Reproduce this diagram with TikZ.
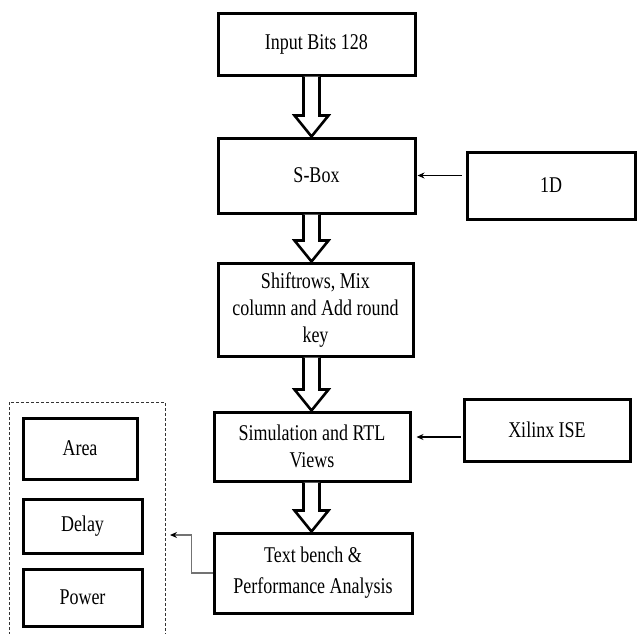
\documentclass[tikz,border=0pt]{standalone}
\usepackage{fontspec}
\setmainfont[FakeStretch=0.8]{Liberation Serif}
\usetikzlibrary{arrows.meta,calc}
\begin{document}
\begin{tikzpicture}[x=1pt,y=-1pt,
  box/.style={draw=black,line width=3pt,fill=white,inner sep=0pt,align=center,
    font=\fontsize{22.5}{27}\selectfont},
  harrow/.style={draw=black,line width=2.6pt,fill=white,line join=miter},
  thinarrow/.style={draw=black,line width=1.4pt,-{Stealth[length=7pt,width=6pt]}},
  fbarrow/.style={draw=black!55,line width=1.6pt,-{Stealth[length=7pt,width=6pt,color=black]}},
  dashbox/.style={draw=black!80,line width=1pt,dash pattern=on 3pt off 2pt}]
\useasboundingbox (0,0) rectangle (638,633);
\path[fill=white] (0,0) rectangle (638,633);

\node[box,minimum width=197pt,minimum height=62pt] (in) at (316.5,44) {Input Bits 128};
\node[box,minimum width=197pt,minimum height=75pt] (sbox) at (316.5,175.5) {S-Box};
\node[box,minimum width=168pt,minimum height=67pt] (d1) at (551,185.5) {1D};
\node[box,minimum width=195pt,minimum height=93pt] (shift) at (315.5,309.5) {Shiftrows, Mix\\column and Add round\\key};
\node[box,minimum width=196pt,minimum height=69pt] (sim) at (312,446.5) {Simulation and RTL\\Views};
\node[box,minimum width=166pt,minimum height=62pt] (xil) at (547,430) {Xilinx ISE};
\node[box,minimum width=198pt,minimum height=80pt] (tb) at (313,573) {Text bench \&\\[4pt]Performance Analysis};

\draw[dashbox] (9,640) -- (9,402) -- (165,402) -- (165,640);
\node[box,minimum width=114pt,minimum height=61pt] (area) at (80,448.5) {Area};
\node[box,minimum width=119pt,minimum height=54pt] (delay) at (82.5,526) {Delay};
\node[box,minimum width=119pt,minimum height=57pt] (power) at (82.5,597.5) {Power};

\coordinate (axis) at (311.5,0);
\newcommand\hollowarrow[2]{%
  \draw[harrow] let \p1=(axis |- #1.south), \p2=(axis |- #2.north) in
    (\x1-8pt,\y1) -- (\x1-8pt,\y2+21pt) -- (\x1-17pt,\y2+21pt) -- (\x2,\y2)
    -- (\x1+17pt,\y2+21pt) -- (\x1+8pt,\y2+21pt) -- (\x1+8pt,\y1);}
\hollowarrow{in}{sbox}
\hollowarrow{sbox}{shift}
\hollowarrow{shift}{sim}
\hollowarrow{sim}{tb}

\draw[thinarrow] ([xshift=-4pt]d1.west |- sbox.east) -- ([xshift=1pt]sbox.east);
\coordinate (xs) at ([xshift=-2pt,yshift=-7pt]xil.west);
\draw[thinarrow] (xs) -- ([xshift=5pt]sim.east |- xs);

\coordinate (fb) at (170,535);
\draw[fbarrow] (tb.west) -- ++(-21,0) |- (fb);
\end{tikzpicture}
\end{document}
